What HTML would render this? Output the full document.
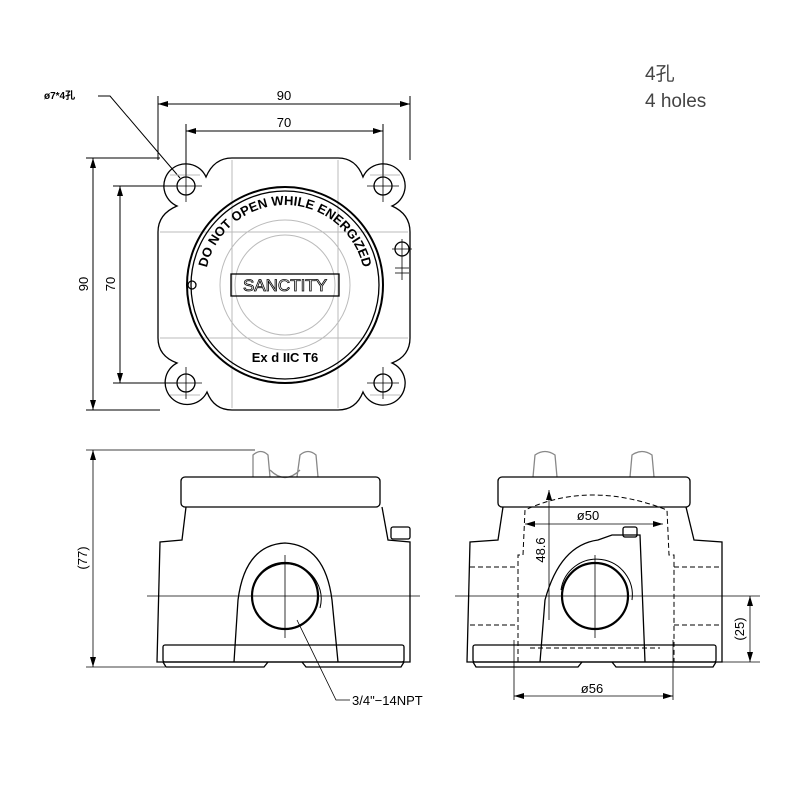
<!DOCTYPE html>
<html><head><meta charset="utf-8"><style>
body{margin:0;background:#fff}
svg{display:block}
text{font-family:"Liberation Sans","Noto Sans CJK SC",sans-serif}
</style></head><body>
<svg width="800" height="800" viewBox="0 0 800 800" xmlns="http://www.w3.org/2000/svg">
<defs>
<marker id="a" markerWidth="10" markerHeight="6" refX="10" refY="3" orient="auto-start-reverse" markerUnits="userSpaceOnUse"><path d="M0,0 L10,3 L0,6z" fill="#000"/></marker>
<path id="arc1" d="M205,285 A80,80 0 0 1 365,285"/>
</defs>
<text x="645" y="80" font-size="19" fill="#444">4孔</text>
<text x="645" y="107" font-size="19" fill="#444">4 holes</text>

<g stroke="#000" fill="none" stroke-width="1">
<line x1="158" y1="96" x2="158" y2="160"/><line x1="410" y1="96" x2="410" y2="160"/>
<line x1="158" y1="104" x2="410" y2="104" marker-start="url(#a)" marker-end="url(#a)"/>
<line x1="186" y1="124" x2="186" y2="176"/><line x1="383" y1="124" x2="383" y2="176"/>
<line x1="186" y1="131" x2="383" y2="131" marker-start="url(#a)" marker-end="url(#a)"/>
<line x1="86" y1="158" x2="160" y2="158"/><line x1="86" y1="410" x2="160" y2="410"/>
<line x1="93" y1="158" x2="93" y2="410" marker-start="url(#a)" marker-end="url(#a)"/>
<line x1="113" y1="186" x2="176" y2="186"/><line x1="113" y1="383" x2="176" y2="383"/>
<line x1="120" y1="186" x2="120" y2="383" marker-start="url(#a)" marker-end="url(#a)"/>
<polyline points="98,96 110,96 180,178"/>
</g>
<text x="284" y="100" font-size="13" text-anchor="middle">90</text>
<text x="284" y="127" font-size="13" text-anchor="middle">70</text>
<text transform="translate(88,284) rotate(-90)" font-size="13" text-anchor="middle">90</text>
<text transform="translate(115,284) rotate(-90)" font-size="13" text-anchor="middle">70</text>
<text x="44" y="99" font-size="10" font-weight="bold">ø7*4孔</text>

<g stroke="#bbb" fill="none" stroke-width="1">
<circle cx="285" cy="285" r="65"/><circle cx="285" cy="285" r="50"/>
<line x1="232" y1="160" x2="232" y2="408"/><line x1="338" y1="160" x2="338" y2="408"/>
<line x1="160" y1="232" x2="408" y2="232"/><line x1="160" y1="338" x2="408" y2="338"/>
<path d="M170,175 L200,175 M370,175 L400,175 M170,395 L200,395 M370,395 L400,395"/>
</g>
<g stroke="#000" fill="none" stroke-width="1.3">
<path d="M232,158 L338,158 Q356,158 363,177 A22,22 0 1 1 392,206 Q410,214 410,232 L410,338 Q410,356 392,363 A22,22 0 1 1 363,392 Q356,410 338,410 L232,410 Q214,410 207,392 A22,22 0 1 1 177,363 Q158,356 158,338 L158,232 Q158,214 177,206 A22,22 0 1 1 206,177 Q214,158 232,158 Z"/>
<circle cx="186" cy="186" r="9"/><circle cx="383" cy="186" r="9"/><circle cx="186" cy="383" r="9"/><circle cx="383" cy="383" r="9"/>
<circle cx="285" cy="285" r="98" stroke-width="2"/><circle cx="285" cy="285" r="94"/>
<rect x="231" y="274" width="108" height="22"/>
<circle cx="192" cy="285" r="4"/><circle cx="402" cy="249" r="7"/>
</g>
<g stroke="#000" stroke-width="0.8">
<line x1="170" y1="186" x2="202" y2="186"/><line x1="186" y1="170" x2="186" y2="202"/>
<line x1="367" y1="186" x2="399" y2="186"/><line x1="383" y1="170" x2="383" y2="202"/>
<line x1="170" y1="383" x2="202" y2="383"/><line x1="186" y1="367" x2="186" y2="399"/>
<line x1="367" y1="383" x2="399" y2="383"/><line x1="383" y1="367" x2="383" y2="399"/>
<line x1="392" y1="249" x2="412" y2="249"/><line x1="402" y1="239" x2="402" y2="280"/>
<line x1="395" y1="268" x2="409" y2="268"/><line x1="395" y1="273" x2="409" y2="273"/>
</g>
<text font-size="13" font-weight="bold"><textPath href="#arc1" startOffset="50%" text-anchor="middle">DO NOT OPEN WHILE ENERGIZED</textPath></text>
<text x="285" y="362" font-size="13" font-weight="bold" text-anchor="middle">Ex d IIC T6</text>
<text x="285" y="291" font-size="17" text-anchor="middle" fill="#fff" stroke="#000" stroke-width="0.8">SANCTITY</text>

<!-- front view -->
<g stroke="#000" fill="none" stroke-width="1.3">
<path d="M253,477 L253,455 Q261,448 268,455 L270,477 M297,477 L300,455 Q308,448 316,455 L318,477 M270,470 Q285,485 300,470" stroke="#888"/>
<rect x="181" y="477" width="199" height="30" rx="4"/>
<path d="M186,507 L182,540 L160,542 L157,662 L410,662 L410,542 L388,540 L382,507"/>
<rect x="391" y="527" width="19" height="12" rx="2"/>
<rect x="163" y="645" width="241" height="17" rx="2"/>
<path d="M163,662 L166,667 L264,667 L268,662 M302,662 L306,667 L401,667 L404,662"/>
<path d="M234,662 L238,600 Q245,545 285,543 Q325,545 332,600 L338,662"/>
<circle cx="285" cy="596" r="33" stroke-width="2.2"/>
<path d="M252,590 A34,34 0 0 1 320,608" stroke-width="1"/>
</g>
<g stroke="#000" stroke-width="0.8" fill="none">
<line x1="147" y1="596" x2="420" y2="596"/><line x1="285" y1="555" x2="285" y2="638"/>
<line x1="86" y1="450" x2="255" y2="450"/><line x1="86" y1="667" x2="165" y2="667"/>
<line x1="93" y1="450" x2="93" y2="667" marker-start="url(#a)" marker-end="url(#a)"/>
<polyline points="297,620 336,700 350,700"/>
</g>
<text transform="translate(87,558) rotate(-90)" font-size="13" text-anchor="middle">(77)</text>
<text x="352" y="705" font-size="13">3/4"−14NPT</text>

<!-- side view -->
<g stroke="#000" fill="none" stroke-width="1.3">
<path d="M533,477 L535,455 Q545,448 555,455 L557,477 M630,477 L632,455 Q642,448 652,455 L654,477" stroke="#888"/>
<rect x="498" y="477" width="192" height="30" rx="4"/>
<path d="M503,507 L498,540 L470,542 L467,662 L722,662 L722,542 L694,540 L686,507"/>
<rect x="473" y="645" width="243" height="17" rx="2"/>
<path d="M473,662 L476,667 L578,667 L582,662 M612,662 L616,667 L713,667 L716,662"/>
<path d="M540,662 L545,600 Q560,545 598,540 L612,535 L640,535 L645,662"/>
<rect x="623" y="527" width="14" height="10" rx="2"/>
<circle cx="595" cy="596" r="33" stroke-width="2.2"/>
<path d="M561,590 A35,35 0 0 1 632,600" stroke-width="1"/>
</g>
<g stroke="#000" stroke-width="1" fill="none" stroke-dasharray="5,3">
<path d="M518,662 L518,555 L523,555 L525,510 Q590,480 667,510 L669,555 L674,555 L674,662"/>
<path d="M470,567 L518,567 M470,625 L518,625 M674,567 L722,567 M674,625 L722,625"/>
<path d="M530,648 L660,648"/>
</g>
<g stroke="#000" stroke-width="0.8" fill="none">
<line x1="455" y1="596" x2="760" y2="596"/><line x1="595" y1="555" x2="595" y2="638"/>
<line x1="525" y1="524" x2="663" y2="524" marker-start="url(#a)" marker-end="url(#a)"/>
<line x1="549" y1="490" x2="549" y2="620" marker-start="url(#a)"/>
<line x1="514" y1="640" x2="514" y2="700"/><line x1="673" y1="640" x2="673" y2="700"/>
<line x1="514" y1="696" x2="673" y2="696" marker-start="url(#a)" marker-end="url(#a)"/>
<line x1="720" y1="662" x2="760" y2="662"/>
<line x1="750" y1="596" x2="750" y2="662" marker-start="url(#a)" marker-end="url(#a)"/>
</g>
<text x="588" y="520" font-size="13" text-anchor="middle">ø50</text>
<text transform="translate(545,550) rotate(-90)" font-size="13" text-anchor="middle">48.6</text>
<text x="592" y="693" font-size="13" text-anchor="middle">ø56</text>
<text transform="translate(744,629) rotate(-90)" font-size="13" text-anchor="middle">(25)</text>
</svg>
</body></html>
